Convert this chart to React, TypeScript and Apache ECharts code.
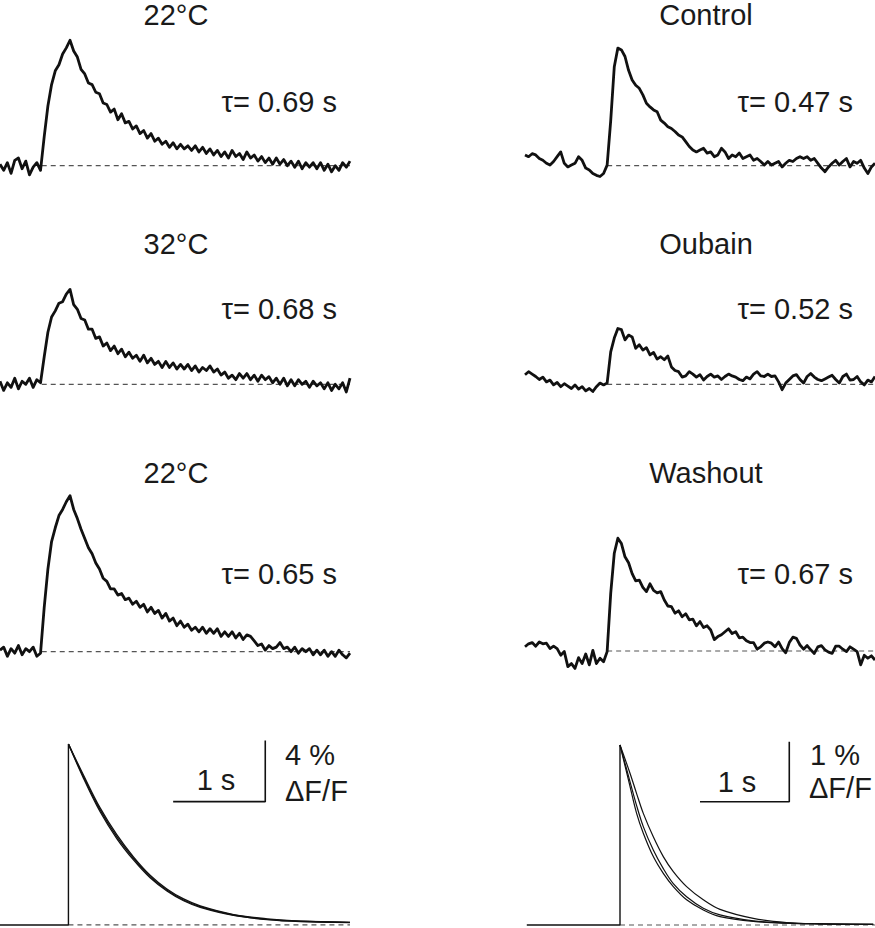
import React, { useEffect, useRef } from 'react';
import * as echarts from 'echarts';

// sampling interval of the traces (s)
const DT = 0.04;

// ---- left column traces (% dF/F), temperature series ----
const trace22first = [
  0.1, -0.3, 0.2, -0.5, 0.35, 0.5, -0.2, 0.3, -0.6, -0.1, 0.2, -0.3,
  1.9, 3.9, 5.3, 6.2, 6.6, 7.3, 7.7, 8.2, 7.5, 7.1,
  6.3, 6.0, 5.4, 5.3, 4.8, 4.7, 4.1, 4.0, 3.5, 3.7,
  3.0, 3.4, 2.8, 2.9, 2.4, 2.6, 2.1, 2.3, 1.8, 2.1,
  1.6, 1.8, 1.4, 1.6, 1.2, 1.5, 1.1, 1.4, 1.1, 1.3,
  1.0, 1.3, 0.9, 1.2, 0.8, 1.1, 0.7, 1.0, 0.6, 0.9,
  0.5, 1.0, 0.6, 0.8, 0.4, 0.9, 0.5, 0.7, 0.3, 0.6,
  0.2, 0.5, 0.1, 0.5, 0.1, 0.4, 0.0, 0.3, -0.1, 0.3,
  -0.2, 0.2, -0.1, 0.2, -0.2, 0.2, -0.3, 0.1, -0.4, 0.0,
  -0.3, 0.2, -0.1, 0.3,
];
const trace32 = [
  0.2, -0.4, 0.1, -0.2, 0.4, -0.3, 0.2, 0.0, 0.4, -0.2, 0.3, 0.1,
  1.8, 3.4, 4.4, 4.8, 5.3, 5.4, 5.9, 6.2, 5.2, 4.9,
  4.3, 4.2, 3.6, 3.6, 3.0, 3.1, 2.5, 2.7, 2.2, 2.5,
  2.0, 2.3, 1.8, 2.1, 1.7, 1.9, 1.5, 1.9, 1.4, 1.7,
  1.3, 1.5, 1.1, 1.5, 1.1, 1.4, 1.0, 1.3, 1.0, 1.3,
  0.9, 1.2, 0.8, 1.1, 0.9, 1.2, 0.8, 1.0, 0.6, 0.8,
  0.4, 0.6, 0.3, 0.7, 0.4, 0.7, 0.3, 0.6, 0.2, 0.6,
  0.3, 0.5, 0.1, 0.4, 0.0, 0.4, -0.1, 0.3, -0.1, 0.3,
  0.0, 0.2, -0.2, 0.2, -0.1, 0.1, -0.3, 0.1, -0.4, 0.0,
  -0.3, 0.1, -0.5, 0.4,
];
const trace22second = [
  0.1, 0.3, -0.3, 0.2, -0.1, 0.4, -0.2, 0.2, 0.0, 0.3, -0.3, -0.1,
  2.9, 5.4, 7.2, 8.1, 8.9, 9.3, 9.8, 10.2, 9.3, 8.7,
  8.0, 7.4, 6.8, 6.4, 5.8, 5.4, 4.8, 4.6, 4.1, 4.1,
  3.7, 3.8, 3.4, 3.5, 3.1, 3.3, 2.9, 3.1, 2.6, 2.9,
  2.5, 2.7, 2.2, 2.5, 2.0, 2.2, 1.7, 2.0, 1.6, 1.8,
  1.4, 1.6, 1.3, 1.6, 1.2, 1.5, 1.2, 1.5, 1.0, 1.3,
  1.0, 1.3, 0.9, 1.2, 0.8, 1.1, 1.0, 0.7, 0.4, 0.5,
  0.1, 0.4, 0.2, 0.3, 0.6, 0.2, 0.3, 0.0, 0.3, -0.1,
  0.2, 0.0, 0.2, -0.2, 0.1, -0.2, 0.1, -0.3, 0.0, -0.3,
  0.1, -0.2, -0.4, -0.1,
];

// ---- right column traces (% dF/F), ouabain series ----
const traceControl = [
  0.18, 0.15, 0.2, 0.18, 0.12, 0.09, 0.04, 0.01, 0.07, 0.15,
  0.23, 0.04, -0.02, 0.01, 0.04, 0.15, 0.09, -0.04, -0.07, -0.13,
  -0.16, -0.18, -0.13, 0.01, 0.75, 1.65, 1.96, 1.93, 1.82, 1.59,
  1.43, 1.34, 1.29, 1.18, 1.04, 0.98, 0.93, 0.9, 0.76, 0.71,
  0.65, 0.62, 0.57, 0.51, 0.48, 0.4, 0.32, 0.26, 0.23, 0.26,
  0.29, 0.21, 0.23, 0.15, 0.18, 0.29, 0.23, 0.12, 0.18, 0.15,
  0.21, 0.12, 0.15, 0.18, 0.09, 0.12, 0.07, 0.01, 0.07, 0.01,
  0.04, 0.07, -0.02, 0.04, 0.09, 0.07, 0.12, 0.15, 0.12, 0.15,
  0.09, 0.12, 0.04, -0.04, -0.1, -0.02, 0.04, 0.09, 0.01, 0.07,
  0.12, -0.02, 0.07, 0.04, 0.09, -0.04, -0.13, -0.02, 0.04,
];
const traceOubain = [
  0.16, 0.21, 0.17, 0.13, 0.08, 0.12, 0.04, 0.07, -0.01, 0.03,
  -0.04, 0.01, -0.03, -0.07, -0.01, -0.08, -0.04, -0.11, -0.07, -0.12,
  -0.04, 0.02, -0.01, 0.02, 0.54, 0.77, 0.93, 0.91, 0.74, 0.82,
  0.79, 0.6, 0.66, 0.57, 0.61, 0.49, 0.53, 0.42, 0.46, 0.41,
  0.47, 0.29, 0.23, 0.21, 0.12, 0.14, 0.21, 0.17, 0.12, 0.16,
  0.07, 0.13, 0.17, 0.12, 0.14, 0.08, 0.13, 0.17, 0.14, 0.12,
  0.08, 0.06, 0.12, 0.09, 0.17, 0.21, 0.14, 0.13, 0.17, 0.13,
  0.14, 0.04, -0.09, 0.02, 0.08, 0.14, 0.16, 0.08, 0.02, 0.13,
  0.18, 0.12, 0.08, 0.06, 0.09, 0.12, 0.15, 0.08, 0.02, 0.13,
  0.17, 0.07, 0.08, 0.13, 0.04, -0.01, 0.07, 0.04, 0.13,
];
const traceWashout = [
  0.07, 0.12, 0.14, 0.08, 0.15, 0.12, 0.13, 0.04, 0.08, 0.04,
  -0.07, -0.01, -0.26, -0.21, -0.29, -0.11, -0.21, -0.05, -0.23, 0.01,
  -0.21, -0.12, -0.18, -0.01, 0.96, 1.63, 1.88, 1.79, 1.57, 1.47,
  1.29, 1.17, 1.18, 1.06, 0.99, 1.12, 1.01, 0.97, 0.99, 0.85,
  0.75, 0.74, 0.63, 0.67, 0.57, 0.62, 0.52, 0.53, 0.42, 0.49,
  0.39, 0.42, 0.35, 0.19, 0.24, 0.27, 0.32, 0.37, 0.29, 0.32,
  0.22, 0.23, 0.17, 0.14, 0.14, 0.03, 0.07, 0.13, 0.15, 0.13,
  0.07, 0.15, 0.04, -0.03, 0.14, 0.23, 0.21, 0.1, 0.03, 0.09,
  0.02, -0.04, 0.07, 0.09, 0.02, -0.02, -0.04, 0.08, 0.08, 0.03,
  -0.01, 0.07, 0.03, -0.01, -0.23, -0.07, -0.12, -0.08, -0.15,
];

// ---- exponential fits (bottom row) ----
const fitTimesLeft = [0.743, 0.906, 1.087, 1.268, 1.449, 1.63, 1.812, 1.993, 2.174, 2.536, 2.899, 3.261, 3.8];
const fitLeft22a = [11.83, 9.69, 7.52, 5.77, 4.36, 3.16, 2.29, 1.63, 1.2, 0.65, 0.37, 0.24, 0.17];
const fitLeft32 = [11.83, 9.6, 7.4, 5.65, 4.25, 3.08, 2.22, 1.58, 1.15, 0.62, 0.35, 0.22, 0.15];
const fitLeft22b = [11.83, 9.8, 7.65, 5.9, 4.45, 3.25, 2.35, 1.7, 1.25, 0.68, 0.4, 0.25, 0.17];

const fitTimesRight = [1.064, 1.176, 1.25, 1.325, 1.437, 1.549, 1.661, 1.81, 1.997, 2.184, 2.557, 2.93, 3.303, 3.9];
const fitControl = [3.0, 2.31, 1.86, 1.53, 1.14, 0.86, 0.64, 0.42, 0.25, 0.14, 0.06, 0.03, 0.02, 0.01];
const fitOubain = [3.0, 2.39, 1.99, 1.64, 1.25, 0.94, 0.69, 0.47, 0.28, 0.17, 0.07, 0.03, 0.02, 0.01];
const fitWashout = [3.0, 2.53, 2.19, 1.86, 1.47, 1.14, 0.89, 0.64, 0.42, 0.26, 0.11, 0.04, 0.02, 0.01];

// stimulus onset (s) for the dashed baselines
const onsetLeft = 0.453;
const onsetRight = 0.92;

// labels
const titlesLeft = ['22°C', '32°C', '22°C'];
const titlesRight = ['Control', 'Oubain', 'Washout'];
const tauLeft = ['0.69', '0.68', '0.65'];
const tauRight = ['0.47', '0.52', '0.67'];

// scale bars: 1 s horizontal, amplitude (%) vertical
const scaleLeft = { seconds: 1, percent: 4, tEnd: 2.88, vBase: 8.06 };
const scaleRight = { seconds: 1, percent: 1, tEnd: 2.96, vBase: 2.055 };

// ---- layout ----
const COLS: any = {
  L: { left: 0, width: 350, tMax: 3.8, pxPerPct: 15.3 },
  R: { left: 525, width: 350, tMax: 3.92, pxPerPct: 60 },
};
const PANELS = [
  { col: 'L', base: 165.7, yMin: -1.2, yMax: 10.6 },
  { col: 'R', base: 165.7, yMin: -0.5, yMax: 2.2 },
  { col: 'L', base: 384.3, yMin: -1.2, yMax: 10.6 },
  { col: 'R', base: 384.3, yMin: -0.5, yMax: 2.2 },
  { col: 'L', base: 651.7, yMin: -1.2, yMax: 10.6 },
  { col: 'R', base: 651, yMin: -0.5, yMax: 2.2 },
  { col: 'L', base: 925, yMin: -0.2, yMax: 12.3 },
  { col: 'R', base: 925, yMin: -0.05, yMax: 3.15 },
];

const FONT = '"Liberation Sans", Arial, Helvetica, sans-serif';
const INK = '#111';

function buildOption() {
  const grid: any[] = [];
  const xAxis: any[] = [];
  const yAxis: any[] = [];
  const series: any[] = [];

  PANELS.forEach((p, i) => {
    const c = COLS[p.col];
    grid.push({
      left: c.left,
      width: c.width,
      top: p.base - p.yMax * c.pxPerPct,
      height: (p.yMax - p.yMin) * c.pxPerPct,
      containLabel: false,
    });
    xAxis.push({ type: 'value', gridIndex: i, min: 0, max: c.tMax, show: false });
    yAxis.push({ type: 'value', gridIndex: i, min: p.yMin, max: p.yMax, show: false });
  });

  const dashed = (i: number, start: number, end: number) => ({
    type: 'line', xAxisIndex: i, yAxisIndex: i, silent: true, symbol: 'none', z: 1,
    data: [[start, 0], [end, 0]],
    lineStyle: { color: '#555', width: 1.2, type: [5, 4] },
  });
  const trace = (i: number, vals: number[]) => ({
    type: 'line', xAxisIndex: i, yAxisIndex: i, silent: true, symbol: 'none', z: 3,
    data: vals.map((v, k) => [Math.round(k * DT * 100) / 100, v]),
    lineStyle: { color: INK, width: 2.8, join: 'round' },
  });
  const fit = (i: number, ts: number[], vals: number[], w: number) => ({
    type: 'line', xAxisIndex: i, yAxisIndex: i, silent: true, symbol: 'none', z: 3,
    smooth: 0.35,
    data: ts.map((t, k) => [t, vals[k]]),
    lineStyle: { color: INK, width: w },
  });
  const plain = (i: number, data: number[][], w: number) => ({
    type: 'line', xAxisIndex: i, yAxisIndex: i, silent: true, symbol: 'none', z: 3,
    data, lineStyle: { color: INK, width: w },
  });

  const leftTraces = [trace22first, trace32, trace22second];
  const rightTraces = [traceControl, traceOubain, traceWashout];
  for (let r = 0; r < 3; r++) {
    series.push(dashed(r * 2, onsetLeft, COLS.L.tMax));
    series.push(trace(r * 2, leftTraces[r]));
    series.push(dashed(r * 2 + 1, onsetRight, COLS.R.tMax));
    series.push(trace(r * 2 + 1, rightTraces[r]));
  }

  // bottom-left fits
  const tpL = fitTimesLeft[0];
  series.push(dashed(6, tpL, COLS.L.tMax));
  series.push(plain(6, [[0, 0], [tpL, 0], [tpL, fitLeft22a[0]]], 1.4));
  [fitLeft22a, fitLeft32, fitLeft22b].forEach((f) => series.push(fit(6, fitTimesLeft, f, 1.3)));
  series.push(plain(6, [
    [scaleLeft.tEnd - scaleLeft.seconds, scaleLeft.vBase],
    [scaleLeft.tEnd, scaleLeft.vBase],
    [scaleLeft.tEnd, scaleLeft.vBase + scaleLeft.percent],
  ], 1.6));

  // bottom-right fits
  const tpR = fitTimesRight[0];
  series.push(dashed(7, tpR, COLS.R.tMax));
  series.push(plain(7, [[0.02, 0], [tpR, 0], [tpR, fitControl[0]]], 1.4));
  [fitControl, fitOubain, fitWashout].forEach((f) => series.push(fit(7, fitTimesRight, f, 1.2)));
  series.push(plain(7, [
    [scaleRight.tEnd - scaleRight.seconds, scaleRight.vBase],
    [scaleRight.tEnd, scaleRight.vBase],
    [scaleRight.tEnd, scaleRight.vBase + scaleRight.percent],
  ], 1.6));

  const txt = (text: string, x: number, y: number, align: string) => ({
    type: 'text', x, y, silent: true, z: 10,
    style: {
      text, fill: '#1a1a1a', fontSize: 29, fontFamily: FONT,
      align, verticalAlign: 'middle', textAlign: align, textVerticalAlign: 'middle',
    },
  });

  const titleY = [15, 244, 473];
  const tauY = [102, 309, 574];
  const graphic: any[] = [];
  for (let r = 0; r < 3; r++) {
    graphic.push(txt(titlesLeft[r], 176, titleY[r], 'center'));
    graphic.push(txt(titlesRight[r], 706, titleY[r], 'center'));
    graphic.push(txt('τ= ' + tauLeft[r] + ' s', 337, tauY[r], 'right'));
    graphic.push(txt('τ= ' + tauRight[r] + ' s', 853, tauY[r], 'right'));
  }
  graphic.push(txt(scaleLeft.seconds + ' s', 216, 780, 'center'));
  graphic.push(txt(scaleLeft.percent + ' %', 285, 755, 'left'));
  graphic.push(txt('ΔF/F', 285, 791, 'left'));
  graphic.push(txt(scaleRight.seconds + ' s', 737, 782, 'center'));
  graphic.push(txt(scaleRight.percent + ' %', 810, 755, 'left'));
  graphic.push(txt('ΔF/F', 809, 788, 'left'));

  return {
    animation: false,
    backgroundColor: '#ffffff',
    grid, xAxis, yAxis, series, graphic,
  };
}

export default function App() {
  const ref = useRef<HTMLDivElement>(null);
  useEffect(() => {
    if (!ref.current) return;
    const chart = echarts.init(ref.current, null, { renderer: 'svg' });
    chart.setOption(buildOption() as any);
    return () => chart.dispose();
  }, []);
  return (
    <div
      ref={ref}
      style={{ position: 'absolute', left: 0, top: 0, width: 875, height: 928 }}
    />
  );
}
